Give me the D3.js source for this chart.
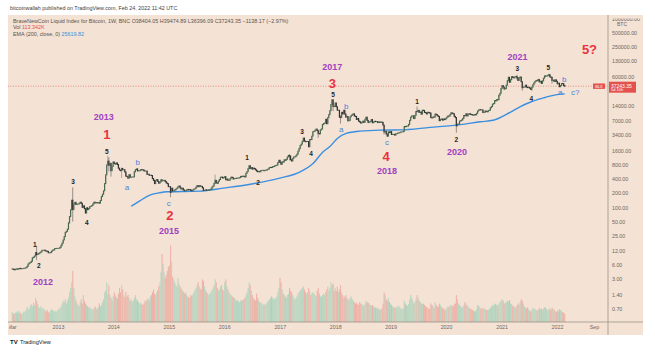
<!DOCTYPE html>
<html>
<head>
<meta charset="utf-8">
<script src="https://cdnjs.cloudflare.com/ajax/libs/d3/7.8.5/d3.min.js"></script>
<style>
    body { margin: 0; background: #ffffff; }
    #chart { width: 655px; height: 352px; }
    text { font-family: "Liberation Sans", Arial, sans-serif; }
</style>
</head>
<body>
<div id="chart"></div>
<script>

// weekly closes (BNC BLX, USD), one array per calendar year
const closes2012 = [4.95, 4.85, 4.75, 4.9, 4.95, 4.9, 5.0, 5.1, 5.0, 5.05, 5.05, 5.1, 5.15, 5.3, 5.6, 6.3, 6.6,
    6.8, 7.2, 8.5, 8.8, 9.3, 11.0, 10.0, 10.2, 10.6, 11.0, 11.4, 12.3, 12.3, 12.4, 12.0, 11.8, 11.7, 10.9,
    10.9, 11.0, 11.8, 12.4, 12.6, 13.4, 13.4, 13.5, 13.5];
const closes2013 = [13.6, 14.2, 15.7, 17.5, 20.4, 24.0, 29.6, 31.0, 34.5, 46.9, 64, 89, 142, 90, 119, 128, 115,
    117, 118, 122, 129, 122, 100, 108, 94, 76, 98, 90, 95, 104, 106, 110, 119, 129, 124, 127, 125, 126, 123,
    140, 170, 190, 225, 320, 490, 800, 955, 780, 860, 600, 740, 920];
const closes2014 = [850, 830, 880, 810, 680, 620, 600, 670, 630, 630, 565, 460, 450, 415, 495, 435, 440,
    440, 445, 570, 630, 655, 595, 600, 600, 635, 630, 625, 595, 590, 590, 500, 505, 480, 480, 475, 410, 375, 320,
    375, 390, 355, 325, 345, 385, 365, 375, 375, 355, 330, 318, 275];
const closes2015 = [275, 210, 255, 225, 225, 235, 245, 255, 275, 285, 260, 245, 255, 235, 225, 225, 235,
    240, 235, 240, 230, 225, 235, 245, 250, 270, 290, 275, 290, 280, 280, 260, 230, 230, 235, 230, 230, 235, 240,
    245, 270, 285, 325, 375, 330, 325, 360, 390, 435, 440, 420, 430];
const closes2016 = [448, 385, 400, 375, 375, 405, 438, 432, 400, 410, 410, 417, 420, 420, 428, 455, 450,
    460, 456, 442, 528, 574, 665, 765, 665, 700, 650, 680, 660, 625, 590, 570, 580, 570, 605, 610, 610, 600, 612,
    617, 640, 655, 700, 705, 700, 730, 735, 765, 770, 790, 895, 998];
const closes2017 = [905, 820, 925, 915, 1020, 1000, 1050, 1175, 1270, 1230, 1020, 965, 1095, 1180, 1180, 1250, 1350,
    1560, 1770, 2050, 2200, 2520, 2950, 2550, 2480, 2500, 2500, 1930, 2750, 2740, 3240, 4050, 4100, 4350, 4580,
    4250, 3700, 3620, 4400, 4600, 5700, 6000, 6150, 7400, 5950, 8000, 9300, 11300, 15200, 19100, 13900, 13800];
const closes2018 = [16400, 13600, 11500, 11500, 8200, 8100, 10400, 9600, 11500, 9550, 8200, 8500, 6850,
    7000, 8350, 8900, 9400, 9650, 8700, 8500, 7350, 7700, 6750, 6500, 6150, 6350, 6750, 6350, 7400, 8200, 7000,
    6300, 6500, 6700, 7300, 6250, 6500, 6700, 6600, 6600, 6300, 6500, 6350, 6480, 6350, 5550, 4000, 4100,
    3600, 3250, 4000, 3850, 4050];
const closes2019 = [3520, 3540, 3540, 3410, 3660, 3670, 3800, 3820, 3930, 4000, 4000, 4100, 5200, 5150, 5300, 5300, 5750,
    7000, 8200, 8700, 8750, 7650, 8950, 10850, 10800, 11450, 10300, 10550, 9500, 11500, 11400, 10350, 10150, 9600,
    10400, 10300, 10000, 8050, 7900, 8300, 8200, 9550, 9300, 8800, 8500, 6900, 7400, 7500, 7100, 7500, 7300, 7750];
const closes2020 = [8180, 8700, 8600, 9330, 10170, 9900, 9670, 8540, 8040, 5380, 5830, 5880, 6780, 6900, 7150, 7700, 8900,
    8750, 9670, 8720, 9450, 9750, 9420, 9300, 9120, 9080, 9280, 9180, 9930, 11080, 11680, 11900, 11680, 11700, 10280,
    10330, 11080, 10780, 10670, 11380, 11500, 13030, 13740, 15480, 15960, 18370, 18180, 19370, 19170, 23850, 26280, 33000];
const closes2021 = [38300, 35800, 32300, 33100, 39300, 48700, 57500, 45200, 51200, 59300, 57400, 55800, 58800,
    59800, 56300, 49100, 56600, 58300, 46500, 34700, 35700, 35800, 39100, 35600, 34700, 35300, 33800, 31800, 35400, 39900,
    43800, 47100, 49300, 48800, 51800, 46000, 47300, 42800, 48200, 55000, 61500, 60900, 61300,
    63300, 65500, 58600, 57300, 49400, 50100, 46700, 50800, 47300];
const closes2022 = [41800, 43100, 36300, 38500, 42400, 42200, 38404.05, 37243.35];

// weekly volume, thousands
const vol2012 = [140, 120, 110, 130, 150, 130, 160, 140, 120, 110, 130, 150, 140, 170, 210, 190, 180, 230, 250, 220, 270, 240,
    340, 300, 250, 210, 190, 220, 200, 180, 190, 160, 150, 170, 140, 130, 160, 180, 170, 150, 160, 140, 150, 170];
const vol2013 = [180, 200, 220, 260, 300, 280, 320, 260, 300, 340, 420, 480, 560, 720, 480, 360, 300, 260, 240, 220,
    280, 320, 260, 380, 300, 260, 240, 220, 200, 210, 190, 180, 170, 200, 220, 190, 180, 210, 260, 220,
    240, 280, 320, 420, 450, 560, 400, 520, 380, 340, 300, 360];
const vol2014 = [420, 380, 350, 330, 400, 480, 420, 520, 460, 380, 350, 420, 360, 380, 340, 300, 320, 290, 300, 340,
    380, 320, 300, 280, 260, 270, 250, 240, 260, 300, 290, 320, 330, 300, 360, 380, 420, 460, 400, 380,
    420, 450, 500, 560, 700, 960, 820, 700, 620, 660, 720, 780];
const vol2015 = [800, 1080, 850, 640, 600, 560, 520, 500, 620, 540, 500, 470, 450, 430, 400, 420, 390, 360, 350, 340, 380,
    370, 390, 420, 450, 480, 520, 560, 500, 470, 460, 600, 580, 500, 450, 420, 400, 380, 400, 420, 450, 480, 520,
    600, 560, 480, 440, 460, 500, 520, 460, 440];
const vol2016 = [560, 600, 500, 460, 420, 400, 380, 360, 350, 340, 320, 300, 310, 290, 280, 300, 310, 300, 320, 340, 380, 420,
    480, 560, 520, 440, 380, 340, 320, 300, 400, 340, 300, 280, 270, 260, 250, 240, 250, 260, 280, 300, 320, 340,
    360, 340, 320, 330, 340, 360, 420, 480];
const vol2017 = [620, 560, 460, 400, 380, 360, 340, 380, 400, 480, 440, 420, 380, 340, 320, 330, 360, 400, 420, 440, 460, 480,
    500, 460, 420, 400, 420, 480, 440, 380, 400, 420, 400, 380, 360, 440, 480, 400, 360, 360, 380, 400, 380, 420,
    460, 500, 440, 480, 560, 520, 540, 440];
const vol2018 = [480, 440, 500, 420, 460, 520, 420, 380, 340, 360, 380, 340, 320, 300, 340, 360, 320, 300, 280, 260, 270, 250,
    240, 280, 260, 250, 240, 230, 260, 300, 280, 270, 260, 240, 230, 240, 220, 210, 200, 190, 200, 180, 170, 180,
    190, 260, 420, 380, 320, 300, 340, 280, 260];
const vol2019 = [240, 220, 210, 200, 210, 200, 230, 220, 200, 190, 180, 190, 300, 260, 240, 230, 250, 320, 380, 340, 300,
    260, 280, 320, 380, 340, 300, 280, 260, 250, 260, 240, 220, 210, 200, 190, 180, 260, 240, 220, 200, 280, 240,
    220, 210, 260, 240, 210, 200, 190, 180, 170];
const vol2020 = [200, 220, 210, 230, 240, 230, 220, 250, 260, 380, 320, 260, 240, 220, 210, 200, 240, 280, 260, 230, 220,
    200, 190, 180, 170, 160, 150, 150, 180, 240, 230, 210, 190, 180, 200, 190, 180, 170, 170, 170, 180, 200, 220,
    240, 230, 260, 250, 240, 230, 260, 280, 300];
const vol2021 = [320, 300, 260, 270, 280, 300, 290, 310, 260, 250, 230, 220, 210, 200, 230, 260, 240, 280, 320, 300, 260, 220,
    200, 190, 210, 180, 160, 150, 170, 200, 190, 180, 170, 160, 170, 200, 180, 190, 170, 190, 210, 200, 180,
    170, 180, 190, 170, 200, 190, 170, 150, 140];
const vol2022 = [160, 150, 180, 170, 150, 140, 130, 113.342];

// weeks whose high / low reach well outside the body: [week start, high, low]
const wicks = [
    ["2012-08-13", 15.4, 7.6], ["2013-04-08", 266, 50], ["2013-11-25", 1240, 780], ["2013-12-02", 1150, 580],
    ["2013-12-16", 870, 450], ["2014-02-24", 700, 420], ["2015-01-12", 280, 165], ["2015-11-02", 500, 320],
    ["2016-06-13", 780, 640], ["2017-03-06", 1330, 1000], ["2017-09-11", 4300, 3000], ["2017-12-11", 19800, 15500],
    ["2017-12-18", 19000, 11000], ["2018-02-05", 9000, 6000], ["2018-11-19", 5600, 3500], ["2018-12-10", 3600, 3150],
    ["2019-06-24", 13800, 10300], ["2020-03-09", 8100, 3850], ["2021-04-12", 64800, 51000], ["2021-05-17", 45800, 30000],
    ["2021-07-19", 34500, 29300], ["2021-11-08", 69000, 62300], ["2021-11-29", 59000, 42000], ["2022-02-21", 39474.89, 36396.09]
];

// EMA(200)
const emaDates = ["2014-04-28", "2014-06-24", "2014-08-29", "2014-11-03", "2014-12-20", "2015-07-24", "2015-12-24",
    "2016-06-20", "2017-01-01", "2017-05-16", "2017-08-08", "2017-10-12", "2017-11-25", "2018-01-15", "2018-03-14",
    "2018-06-13", "2018-10-23", "2019-03-04", "2019-09-17", "2020-04-05", "2020-08-15", "2020-11-06", "2021-03-01",
    "2021-05-05", "2021-07-08", "2021-10-04", "2021-11-01", "2022-01-20", "2022-02-21"];
const emaValues = [106, 138, 182, 205, 214, 221, 256, 310, 417, 570, 850, 1500, 1930, 2900, 3700, 4150, 4360, 4400,
    4980, 5700, 6550, 7040, 10500, 13800, 17000, 21000, 22300, 25200, 25620];

const priceTicks = [1000000, 500000, 250000, 130000, 60000, 14000, 7000, 3400, 1600, 800, 400, 200, 100, 50, 25, 12, 6, 3, 1.4, 0.7];
const timeTicks = ["2012-03-01", "2013-01-01", "2014-01-01", "2015-01-01", "2016-01-01", "2017-01-01", "2018-01-01",
    "2019-01-01", "2020-01-01", "2021-01-01", "2022-01-01", "2022-09-01"];

// annotations: [date, price, text]
const yearLabels = [["2012-09-24", 2.58, "2012"], ["2013-10-30", 8240, "2013"], ["2015-01-02", 31.3, "2015"],
    ["2017-12-13", 94800, "2017"], ["2018-12-09", 588, "2018"], ["2020-03-14", 1490, "2020"], ["2021-04-16", 155000, "2021"]];
const cycleLabels = [["2013-11-19", 3590, "1"], ["2015-01-08", 68.4, "2"], ["2017-12-13", 43300, "3"],
    ["2018-12-02", 1220, "4"], ["2022-08-03", 218000, "5?"]];
const waveNumbers = [["2012-08-02", 16.6, "1"], ["2012-08-28", 5.93, "2"], ["2013-04-10", 361, "3"], ["2013-07-10", 48.5, "4"],
    ["2013-11-19", 1563, "5"], ["2016-05-30", 1165, "1"], ["2016-08-11", 343, "2"], ["2017-05-27", 4150, "3"],
    ["2017-07-26", 1416, "4"], ["2017-12-18", 25300, "5"], ["2019-06-25", 18000, "1"], ["2020-03-08", 2800, "2"],
    ["2021-04-15", 90300, "3"], ["2021-07-16", 20800, "4"], ["2021-11-05", 94800, "5"]];
const waveLetters = [["2014-03-31", 268, "a"], ["2014-06-10", 912, "b"], ["2015-01-01", 123, "c"],
    ["2018-02-09", 4580, "a"], ["2018-03-14", 14100, "b"], ["2018-12-09", 2430, "c"],
    ["2022-01-22", 27900, "a"], ["2022-02-17", 52700, "b"], ["2022-05-01", 27900, "c?"]];

const lastClose = 37243.35;


class WaveChart {

    constructor(_parentElement) {
        this.parentElement = _parentElement;
        this.parseDate = d3.utcParse("%Y-%m-%d");
        this.formatDate = d3.utcFormat("%Y-%m-%d");
        this.initVis();
    }

    initVis() {
        let vis = this;

        vis.width = 655;
        vis.height = 352;
        vis.pane = { left: 8, right: 643, top: 15, bottom: 335, axisX: 608, axisY: 322 };

        vis.svg = d3.select("#" + vis.parentElement).append("svg")
            .attr("width", vis.width)
            .attr("height", vis.height);

        vis.x = d3.scaleUtc()
            .domain([vis.parseDate("2013-01-01"), vis.parseDate("2022-01-01")])
            .range([58, 557]);

        vis.y = d3.scaleLog()
            .domain([0.7, 500000])
            .range([309, 33]);

        vis.yVol = d3.scaleLinear()
            .domain([0, 1100])
            .range([vis.pane.axisY, vis.pane.axisY - 78]);

        let defs = vis.svg.append("defs");
        defs.append("clipPath").attr("id", "plot-clip")
            .append("rect")
            .attr("x", vis.pane.left).attr("y", vis.pane.top)
            .attr("width", vis.pane.axisX - vis.pane.left)
            .attr("height", vis.pane.axisY - vis.pane.top);
        defs.append("clipPath").attr("id", "axis-clip")
            .append("rect")
            .attr("x", vis.pane.axisX).attr("y", vis.pane.top + 3.5)
            .attr("width", vis.pane.right - vis.pane.axisX)
            .attr("height", vis.pane.axisY - vis.pane.top - 3.5);
        defs.append("clipPath").attr("id", "time-clip")
            .append("rect")
            .attr("x", vis.pane.left + 1).attr("y", vis.pane.axisY)
            .attr("width", vis.pane.axisX - vis.pane.left)
            .attr("height", vis.pane.bottom - vis.pane.axisY);

        // pane background
        vis.svg.append("rect")
            .attr("x", vis.pane.left).attr("y", vis.pane.top)
            .attr("width", vis.pane.right - vis.pane.left)
            .attr("height", vis.pane.bottom - vis.pane.top)
            .attr("fill", "#f4e2d4");

        vis.volG = vis.svg.append("g").attr("clip-path", "url(#plot-clip)");
        vis.priceG = vis.svg.append("g").attr("clip-path", "url(#plot-clip)");
        vis.labelG = vis.svg.append("g");

        vis.wrangleData();
    }

    wrangleData() {
        let vis = this;

        let years = [
            [2012, closes2012, vol2012], [2013, closes2013, vol2013], [2014, closes2014, vol2014],
            [2015, closes2015, vol2015], [2016, closes2016, vol2016], [2017, closes2017, vol2017],
            [2018, closes2018, vol2018], [2019, closes2019, vol2019], [2020, closes2020, vol2020],
            [2021, closes2021, vol2021], [2022, closes2022, vol2022]
        ];

        let wickMap = new Map(wicks.map(w => [w[0], w]));

        vis.weeks = [];
        let prev = null;
        years.forEach(([yr, closes, vols]) => {
            let start = yr === 2012 ? vis.parseDate("2012-03-05") : d3.utcMonday.ceil(new Date(Date.UTC(yr, 0, 1)));
            closes.forEach((c, i) => {
                let date = d3.utcMonday.offset(start, i);
                let open = prev === null ? c : prev;
                let w = wickMap.get(vis.formatDate(date));
                vis.weeks.push({
                    date: date,
                    open: open,
                    close: c,
                    high: w ? w[1] : Math.max(open, c),
                    low: w ? w[2] : Math.min(open, c),
                    volume: vols[i],
                    up: c >= open
                });
                prev = c;
            });
        });

        vis.ema = emaDates.map((d, i) => ({ date: vis.parseDate(d), value: emaValues[i] }));

        vis.updateVis();
    }

    updateVis() {
        let vis = this;

        // volume
        vis.volG.selectAll("rect")
            .data(vis.weeks)
            .enter()
            .append("rect")
            .attr("x", d => vis.x(d.date) - 0.5)
            .attr("y", d => vis.yVol(d.volume))
            .attr("width", 1.1)
            .attr("height", d => vis.pane.axisY - vis.yVol(d.volume))
            .attr("fill", d => d.up ? "#a9d3bd" : "#eea89d")
            .attr("opacity", 0.8);

        // EMA
        let emaLine = d3.line()
            .x(d => vis.x(d.date))
            .y(d => vis.y(d.value))
            .curve(d3.curveMonotoneX);

        vis.priceG.append("path")
            .datum(vis.ema)
            .attr("d", emaLine)
            .attr("fill", "none")
            .attr("stroke", "#3a8fe0")
            .attr("stroke-width", 1.4);

        // current price line
        vis.priceG.append("line")
            .attr("x1", vis.pane.left).attr("x2", vis.pane.axisX)
            .attr("y1", vis.y(lastClose)).attr("y2", vis.y(lastClose))
            .attr("stroke", "#e06a64")
            .attr("stroke-width", 0.7)
            .attr("stroke-dasharray", "1,1.5");

        // candles
        vis.priceG.selectAll(".wick")
            .data(vis.weeks)
            .enter()
            .append("line")
            .attr("class", "wick")
            .attr("x1", d => vis.x(d.date)).attr("x2", d => vis.x(d.date))
            .attr("y1", d => vis.y(d.high)).attr("y2", d => vis.y(d.low))
            .attr("stroke", d => d.up ? "#6b8a70" : "#555555")
            .attr("stroke-width", 0.6);

        vis.priceG.selectAll(".candle")
            .data(vis.weeks)
            .enter()
            .append("rect")
            .attr("class", "candle")
            .attr("x", d => vis.x(d.date) - 0.6)
            .attr("width", 1.2)
            .attr("y", d => Math.min(vis.y(d.open), vis.y(d.close)) - 0.5)
            .attr("height", d => Math.abs(vis.y(d.open) - vis.y(d.close)) + 1)
            .attr("fill", d => d.up ? "#4a6a52" : "#333333");

        // axes frame
        vis.svg.append("line")
            .attr("x1", vis.pane.axisX).attr("x2", vis.pane.axisX)
            .attr("y1", vis.pane.top).attr("y2", vis.pane.bottom)
            .attr("stroke", "#8f8780").attr("stroke-width", 0.7);
        vis.svg.append("line")
            .attr("x1", vis.pane.left).attr("x2", vis.pane.right)
            .attr("y1", vis.pane.axisY).attr("y2", vis.pane.axisY)
            .attr("stroke", "#8f8780").attr("stroke-width", 0.7);

        // price axis
        let yAxis = d3.axisRight(vis.y)
            .tickValues(priceTicks)
            .tickFormat(d3.format(".2f"))
            .tickSize(0)
            .tickPadding(4);

        let yAxisG = vis.svg.append("g")
            .attr("clip-path", "url(#axis-clip)")
            .append("g")
            .attr("transform", "translate(" + vis.pane.axisX + ",0)")
            .call(yAxis);
        yAxisG.select(".domain").remove();
        yAxisG.selectAll("text")
            .attr("font-size", 5.3)
            .attr("font-family", "Liberation Sans, Arial, sans-serif")
            .attr("fill", "#6f6660");

        vis.svg.append("text")
            .attr("x", 622).attr("y", 24)
            .attr("text-anchor", "middle")
            .attr("dominant-baseline", "central")
            .attr("font-size", 5)
            .attr("fill", "#6f6660")
            .text("BTC");

        // time axis
        let xAxis = d3.axisBottom(vis.x)
            .tickValues(timeTicks.map(vis.parseDate))
            .tickFormat(d => d.getUTCMonth() === 0 ? d3.utcFormat("%Y")(d) : d3.utcFormat("%b")(d))
            .tickSize(0)
            .tickPadding(3.5);

        let xAxisG = vis.svg.append("g")
            .attr("clip-path", "url(#time-clip)")
            .append("g")
            .attr("transform", "translate(0," + vis.pane.axisY + ")")
            .call(xAxis);
        xAxisG.select(".domain").remove();
        xAxisG.selectAll("text")
            .attr("font-size", 5.3)
            .attr("font-family", "Liberation Sans, Arial, sans-serif")
            .attr("fill", "#6f6660");

        // last price tags
        let yLast = vis.y(lastClose);
        vis.svg.append("rect")
            .attr("x", 609).attr("y", yLast - 4.5)
            .attr("width", 27).attr("height", 11)
            .attr("fill", "#e3524c");
        vis.svg.append("text")
            .attr("x", 611).attr("y", yLast - 0.5)
            .attr("dominant-baseline", "central")
            .attr("font-size", 5).attr("fill", "#ffffff")
            .text("37243.35");
        vis.svg.append("text")
            .attr("x", 611).attr("y", yLast + 3.6)
            .attr("dominant-baseline", "central")
            .attr("font-size", 4).attr("fill", "#ffffff")
            .text("5d 10h");

        vis.svg.append("rect")
            .attr("x", 593).attr("y", yLast - 2.7)
            .attr("width", 12).attr("height", 5.4)
            .attr("fill", "#e3524c");
        vis.svg.append("text")
            .attr("x", 599).attr("y", yLast)
            .attr("text-anchor", "middle")
            .attr("dominant-baseline", "central")
            .attr("font-size", 4).attr("fill", "#ffffff")
            .text("BLX");

        // annotations
        let addLabels = (rows, size, weight, color) => {
            vis.labelG.append("g")
                .selectAll("text")
                .data(rows)
                .enter()
                .append("text")
                .attr("x", d => vis.x(vis.parseDate(d[0])))
                .attr("y", d => vis.y(d[1]))
                .attr("text-anchor", "middle")
                .attr("dominant-baseline", "central")
                .attr("font-size", size)
                .attr("font-weight", weight)
                .attr("fill", color)
                .text(d => d[2]);
        };

        addLabels(yearLabels, 9, "bold", "#a23fc2");
        addLabels(cycleLabels, 13, "bold", "#e8333f");
        addLabels(waveNumbers, 6.5, "bold", "#1f1f1f");
        addLabels(waveLetters, 8, "normal", "#4a82db");

        // header + legend
        vis.svg.append("text")
            .attr("x", 10).attr("y", 8)
            .attr("dominant-baseline", "central")
            .attr("font-size", 5.4).attr("fill", "#3d3d3d")
            .text("bitcoinwallah published on TradingView.com, Feb 24, 2022 11:42 UTC");

        vis.svg.append("text")
            .attr("x", 13).attr("y", 20.5)
            .attr("dominant-baseline", "central")
            .attr("font-size", 5.4).attr("fill", "#5a524c")
            .text("BraveNewCoin Liquid Index for Bitcoin, 1W, BNC  O38404.05  H39474.89  L36396.09  C37243.35  \u22121138.17 (\u22122.97%)");

        let volText = vis.svg.append("text")
            .attr("x", 13).attr("y", 27)
            .attr("dominant-baseline", "central")
            .attr("font-size", 5.4).attr("fill", "#5a524c");
        volText.append("tspan").text("Vol  ");
        volText.append("tspan").attr("fill", "#e3524c").text("113.342K");

        let emaText = vis.svg.append("text")
            .attr("x", 13).attr("y", 33.5)
            .attr("dominant-baseline", "central")
            .attr("font-size", 5.4).attr("fill", "#5a524c");
        emaText.append("tspan").text("EMA (200, close, 0)  ");
        emaText.append("tspan").attr("fill", "#3a8fe0").text("25619.82");

        // footer logo
        vis.svg.append("text")
            .attr("x", 10).attr("y", 342)
            .attr("dominant-baseline", "central")
            .attr("font-size", 6).attr("font-weight", "bold").attr("fill", "#131722")
            .text("TV");
        vis.svg.append("text")
            .attr("x", 20).attr("y", 342)
            .attr("dominant-baseline", "central")
            .attr("font-size", 5.6).attr("fill", "#131722")
            .text("TradingView");
    }
}

new WaveChart("chart");

</script>
</body>
</html>
